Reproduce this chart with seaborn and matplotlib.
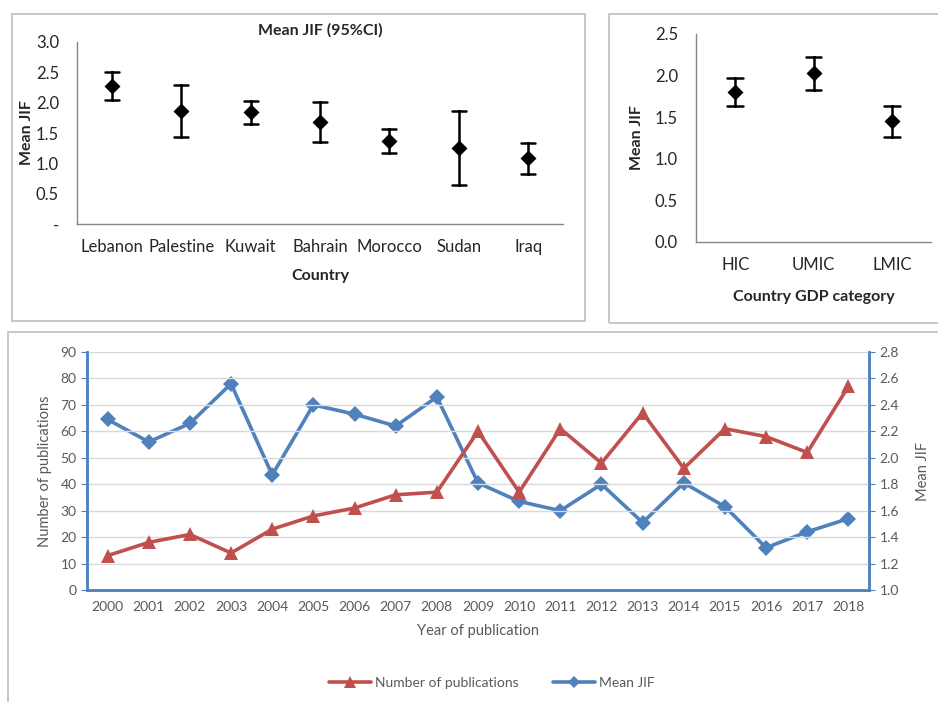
import numpy as np
import pandas as pd
import matplotlib.pyplot as plt
import seaborn as sns
from matplotlib.patches import Rectangle
from matplotlib.lines import Line2D
from matplotlib.ticker import FixedLocator

# ---- datos ----
paises = ['Lebanon', 'Palestine', 'Kuwait', 'Bahrain', 'Morocco', 'Sudan', 'Iraq']
jif_pais = [2.27, 1.86, 1.84, 1.68, 1.37, 1.25, 1.08]
ci_bajo_pais = [2.04, 1.43, 1.65, 1.35, 1.17, 0.64, 0.82]
ci_alto_pais = [2.50, 2.29, 2.03, 2.01, 1.57, 1.86, 1.34]

gdp_cat = ['HIC', 'UMIC', 'LMIC']
jif_gdp = [1.80, 2.03, 1.45]
ci_bajo_gdp = [1.64, 1.83, 1.26]
ci_alto_gdp = [1.97, 2.22, 1.64]

years = list(range(2000, 2019))
n_pub = [13, 18, 21, 14, 23, 28, 31, 36, 37, 60, 37, 61, 48, 67, 46, 61, 58, 52, 77]
mean_jif = [2.29, 2.12, 2.26, 2.56, 1.87, 2.40, 2.33, 2.24, 2.46, 1.81,
            1.67, 1.60, 1.80, 1.51, 1.81, 1.63, 1.32, 1.44, 1.54]

ROJO = '#C0504D'
AZUL = '#4F81BD'
GRIS = '#595959'

sns.set_style('white')
plt.rcParams['font.family'] = ['Lato', 'DejaVu Sans']


def tabla_ci(cats, bajo, media, alto):
    '''Tabla larga con (bajo, media, alto) por categoria'''
    filas = []
    for c, b, m, a in zip(cats, bajo, media, alto):
        filas += [(c, b), (c, m), (c, a)]
    return pd.DataFrame(filas, columns=['cat', 'val'])


def panel_ci(ax, df, ylim, yticks, ylabels):
    sns.pointplot(data=df, x='cat', y='val', estimator='median',
                  errorbar=lambda v: (v.min(), v.max()), color='black',
                  marker='D', markersize=6, linestyle='none', capsize=0.2,
                  err_kws={'linewidth': 1.8}, ax=ax)
    ax.set_ylim(*ylim)
    ax.set_yticks(yticks)
    ax.set_yticklabels(ylabels, fontsize=12)
    n = df['cat'].nunique()
    ax.set_xlim(-0.5, n - 0.5)
    ax.xaxis.set_major_locator(FixedLocator(np.arange(n)))
    ax.xaxis.set_minor_locator(FixedLocator(np.arange(-0.5, n, 1)))
    ax.tick_params(axis='x', which='major', length=0, labelsize=12, pad=11)
    ax.tick_params(axis='x', which='minor', length=5, width=1, color='#868686', direction='out')
    ax.tick_params(axis='y', length=5, width=1, color='#868686', direction='out', pad=8)
    for s in ['top', 'right']:
        ax.spines[s].set_visible(False)
    for s in ['left', 'bottom']:
        ax.spines[s].set_color('#868686')
        ax.spines[s].set_linewidth(1)


fig = plt.figure(figsize=(9.38, 7.02), dpi=100)

# recuadros de cada panel
for (x0, y0, x1, y1) in [(12, 14, 585, 321), (609, 14, 945, 323), (8, 332, 945, 710)]:
    fig.patches.append(Rectangle((x0 / 938, 1 - y1 / 702), (x1 - x0) / 938, (y1 - y0) / 702,
                                 transform=fig.transFigure, fill=False,
                                 edgecolor='#BFBFBF', linewidth=1.2))

# ---- panel pais ----
ax1 = fig.add_axes([77 / 938, 1 - 224 / 702, (563 - 77) / 938, (224 - 42) / 702])
panel_ci(ax1, tabla_ci(paises, ci_bajo_pais, jif_pais, ci_alto_pais),
         (0, 3.0), np.arange(0, 3.01, 0.5), ['-', '0.5', '1.0', '1.5', '2.0', '2.5', '3.0'])
ax1.set_title('Mean JIF (95%CI)', fontsize=11.5, fontweight='bold', pad=5)
ax1.set_xlabel('Country', fontsize=11.5, fontweight='bold', labelpad=10)
ax1.set_ylabel('Mean JIF', fontsize=11.5, fontweight='bold', labelpad=1)

# ---- panel GDP ----
ax2 = fig.add_axes([696 / 938, 1 - 242 / 702, (931 - 696) / 938, (242 - 34) / 702])
panel_ci(ax2, tabla_ci(gdp_cat, ci_bajo_gdp, jif_gdp, ci_alto_gdp),
         (0, 2.5), np.arange(0, 2.51, 0.5), ['%.1f' % v for v in np.arange(0, 2.51, 0.5)])
ax2.set_xlabel('Country GDP category', fontsize=11.5, fontweight='bold', labelpad=12)
ax2.set_ylabel('Mean JIF', fontsize=11.5, fontweight='bold', labelpad=8)

# ---- panel anual ----
ax3 = fig.add_axes([87 / 938, 1 - 590 / 702, (869 - 87) / 938, (590 - 352) / 702])
ax4 = ax3.twinx()
df_anual = pd.DataFrame({'year': years, 'n_pub': n_pub, 'jif': mean_jif})
df_anual['pos'] = np.arange(len(years))

sns.lineplot(data=df_anual, x='pos', y='n_pub', color=ROJO, linewidth=2.6,
             marker='^', markersize=10, markeredgewidth=0, ax=ax3)
sns.lineplot(data=df_anual, x='pos', y='jif', color=AZUL, linewidth=2.6,
             marker='D', markersize=8, markeredgewidth=0, ax=ax4)
ax3.set_zorder(ax4.get_zorder() + 1)
ax3.patch.set_visible(False)

ax3.set_xlim(-0.5, len(years) - 0.5)
ax3.set_xticks(df_anual['pos'])
ax3.set_xticklabels([str(y) for y in years], fontsize=10, color=GRIS)
ax3.set_ylim(0, 90)
ax3.set_yticks(np.arange(0, 91, 10))
ax4.set_ylim(1.0, 2.8)
ax4.set_yticks(np.arange(1.0, 2.81, 0.2))
ax4.set_yticklabels(['%.1f' % v for v in np.arange(1.0, 2.81, 0.2)])
ax3.yaxis.grid(True, color='#D9D9D9', linewidth=1)
ax3.set_axisbelow(True)
ax3.tick_params(axis='x', length=0, pad=8)
ax3.tick_params(axis='y', length=4, color=AZUL, labelsize=10, labelcolor=GRIS)
ax4.tick_params(axis='y', length=4, color=AZUL, labelsize=10, labelcolor=GRIS)
for a in (ax3, ax4):
    a.spines['top'].set_visible(False)
    for s in ['left', 'right', 'bottom']:
        a.spines[s].set_color(AZUL)
        a.spines[s].set_linewidth(1.8)
ax3.set_xlabel('Year of publication', fontsize=10.5, color=GRIS, labelpad=8)
ax3.set_ylabel('Number of publications', fontsize=10.5, color=GRIS, labelpad=6)
ax4.set_ylabel('Mean JIF', fontsize=10.5, color=GRIS, labelpad=12)

handles = [Line2D([], [], color=ROJO, linewidth=2.6, marker='^', markersize=8, markeredgewidth=0),
           Line2D([], [], color=AZUL, linewidth=2.6, marker='D', markersize=6, markeredgewidth=0)]
fig.legend(handles, ['Number of publications', 'Mean JIF'], loc='center',
           bbox_to_anchor=(492 / 938, 1 - 683 / 702), ncol=2, frameon=False,
           fontsize=10, labelcolor=GRIS, handlelength=3.0, handletextpad=0.3,
           columnspacing=2.5)

fig.savefig('out.png', dpi=100)
